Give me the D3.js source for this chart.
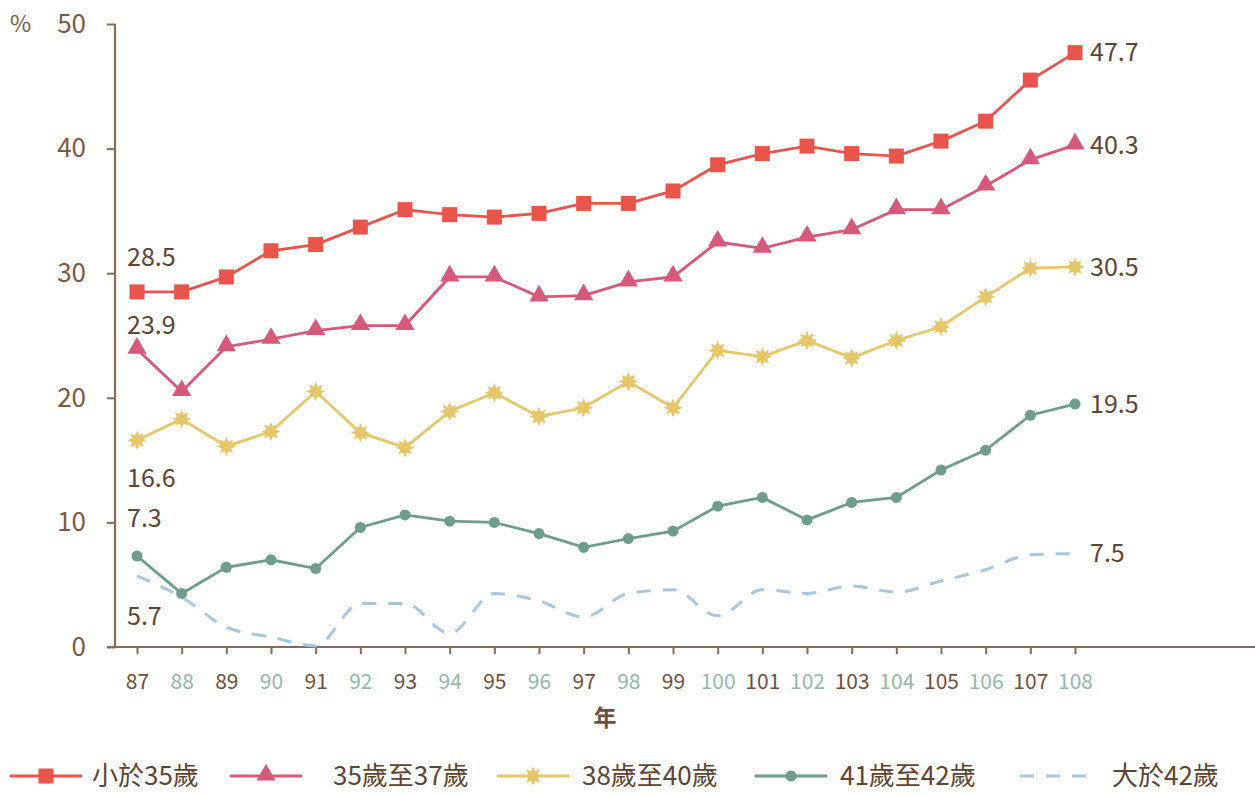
<!DOCTYPE html>
<html><head><meta charset="utf-8">
<script src="https://cdn.jsdelivr.net/npm/d3@7/dist/d3.min.js"></script>
<style>
html,body{margin:0;padding:0;background:#fff;}
text{font-family:"Noto Sans CJK TC","Noto Sans",sans-serif;}
</style></head>
<body>
<svg id="chart" width="1255" height="796"></svg>
<script>
const years = ["87","88","89","90","91","92","93","94","95","96","97","98","99","100","101","102","103","104","105","106","107","108"];
const seriesNames = ["小於35歲","35歲至37歲","38歲至40歲","41歲至42歲","大於42歲"];
const under35   = [28.5,28.5,29.7,31.8,32.3,33.7,35.1,34.7,34.5,34.8,35.6,35.6,36.6,38.7,39.6,40.2,39.6,39.4,40.6,42.2,45.5,47.7];
const age35to37 = [23.9,20.5,24.1,24.7,25.4,25.8,25.8,29.7,29.7,28.1,28.2,29.3,29.7,32.5,32.0,32.9,33.5,35.1,35.1,37.0,39.1,40.3];
const age38to40 = [16.6,18.3,16.1,17.3,20.5,17.2,16.0,18.9,20.4,18.5,19.2,21.3,19.2,23.8,23.3,24.6,23.2,24.6,25.7,28.1,30.4,30.5];
const age41to42 = [7.3,4.3,6.4,7.0,6.3,9.6,10.6,10.1,10.0,9.1,8.0,8.7,9.3,11.3,12.0,10.2,11.6,12.0,14.2,15.8,18.6,19.5];
const over42    = [5.7,4.0,1.6,0.8,0.1,3.5,3.5,1.1,4.3,3.7,2.4,4.3,4.6,2.5,4.6,4.3,4.9,4.4,5.3,6.2,7.4,7.5];
const yTicks = [0,10,20,30,40,50];

const svg = d3.select("#chart");
const x = d3.scalePoint().domain(years).range([137,1075]);
const y = d3.scaleLinear().domain([0,50]).range([647,24]);
const axisColor = "#8b6a55";
const labelColor = "#5b4535";

const series = [
  {name:seriesNames[0], data:under35,   color:"#e9544b", marker:"square", dash:null},
  {name:seriesNames[1], data:age35to37, color:"#d6587a", marker:"triangle", dash:null},
  {name:seriesNames[2], data:age38to40, color:"#e6c66a", marker:"star", dash:null},
  {name:seriesNames[3], data:age41to42, color:"#6e9e8b", marker:"dot", dash:null},
  {name:seriesNames[4], data:over42,    color:"#a9c6df", marker:null, dash:"14,12"}
];

function starPath(r){
  const pts=[]; const n=8;
  for(let i=0;i<n*2;i++){
    const rr = i%2===0 ? r : r*0.55;
    const a = Math.PI*i/n - Math.PI/2;
    pts.push([rr*Math.cos(a), rr*Math.sin(a)]);
  }
  return "M"+pts.map(p=>p.join(",")).join("L")+"Z";
}
function drawMarker(g, type, color, cx, cy){
  if(type==="square"){
    g.append("rect").attr("x",cx-7.5).attr("y",cy-7.5).attr("width",15).attr("height",15).attr("fill",color);
  } else if(type==="triangle"){
    g.append("path").attr("d",d3.symbol().type(d3.symbolTriangle).size(160)()).attr("transform",`translate(${cx},${cy-1})`).attr("fill",color);
  } else if(type==="star"){
    g.append("path").attr("d",starPath(9.5)).attr("transform",`translate(${cx},${cy})`).attr("fill",color);
  } else if(type==="dot"){
    g.append("circle").attr("cx",cx).attr("cy",cy).attr("r",5.5).attr("fill",color);
  }
}

// Y axis
const yAxis = d3.axisLeft(y).tickValues(yTicks).tickSize(8).tickSizeOuter(0).tickPadding(21);
const gy = svg.append("g").attr("transform","translate(115,0)").call(yAxis);
gy.select(".domain").remove();
gy.selectAll(".tick line").attr("stroke",axisColor).attr("stroke-width",2);
gy.selectAll(".tick text").attr("fill","#7a5a45").style("font-size","26px");
svg.append("line").attr("x1",115).attr("x2",115).attr("y1",y(50)).attr("y2",y(0)).attr("stroke",axisColor).attr("stroke-width",2.2);
svg.append("text").attr("x",10).attr("y",y(50)).attr("dy","0.35em").attr("fill","#7a5a45").style("font-size","23px").text("%");

// X axis
const xAxis = d3.axisBottom(x).tickSize(7).tickSizeOuter(0).tickPadding(20);
const gx = svg.append("g").attr("transform",`translate(0,${y(0)})`).call(xAxis);
gx.select(".domain").remove();
gx.selectAll(".tick line").attr("stroke",axisColor).attr("stroke-width",2);
gx.selectAll(".tick text").attr("fill",(d,i)=> i%2===0 ? "#6e5040" : "#94b6af").style("font-size","21px");
svg.append("line").attr("x1",107).attr("x2",1255).attr("y1",y(0)).attr("y2",y(0)).attr("stroke",axisColor).attr("stroke-width",2.2);
svg.append("text").attr("x",605).attr("y",718).attr("text-anchor","middle").attr("dy","0.35em").attr("fill","#6e5040").style("font-size","23px").style("font-weight","bold").text("年");

// Lines
const plot = svg.append("g");
series.slice().reverse().forEach(s=>{
  const line = d3.line().x((d,i)=>x(years[i])).y(d=>y(d)).curve(s.dash ? d3.curveMonotoneX : d3.curveLinear);
  plot.append("path").datum(s.data).attr("d",line).attr("fill","none").attr("stroke",s.color)
    .attr("stroke-width",s.dash?3:2.8).attr("stroke-dasharray",s.dash);
  if(s.marker){
    s.data.forEach((v,i)=>drawMarker(plot,s.marker,s.color,x(years[i]),y(v)));
  }
});

// Data labels
const firstOffsets = [-35,-24,38,-38,40];
series.forEach((s,k)=>{
  const v0 = s.data[0];
  svg.append("text").attr("x",x(years[0])-10).attr("y",y(v0)+firstOffsets[k]).attr("dy","0.35em")
    .attr("fill",labelColor).style("font-size","25px").text(v0.toFixed(1));
  const vn = s.data[s.data.length-1];
  svg.append("text").attr("x",x(years[years.length-1])+15).attr("y",y(vn)).attr("dy","0.35em")
    .attr("fill",labelColor).style("font-size","25px").text(vn.toFixed(1));
});

// Legend
const legendX = [10,230,497,755,1020];
const textX = [92,333,582,840,1112];
const ly = 776;
series.forEach((s,k)=>{
  const g = svg.append("g");
  g.append("line").attr("x1",legendX[k]).attr("x2",legendX[k]+72).attr("y1",ly).attr("y2",ly)
    .attr("stroke",s.color).attr("stroke-width",s.dash?3:2.8).attr("stroke-dasharray",s.dash?"14,12":null);
  if(s.marker) drawMarker(g,s.marker,s.color,legendX[k]+36,ly);
  g.append("text").attr("x",textX[k]).attr("y",ly).attr("dy","0.35em").attr("fill",labelColor)
    .style("font-size","26px").text(s.name);
});
</script>
</body></html>
